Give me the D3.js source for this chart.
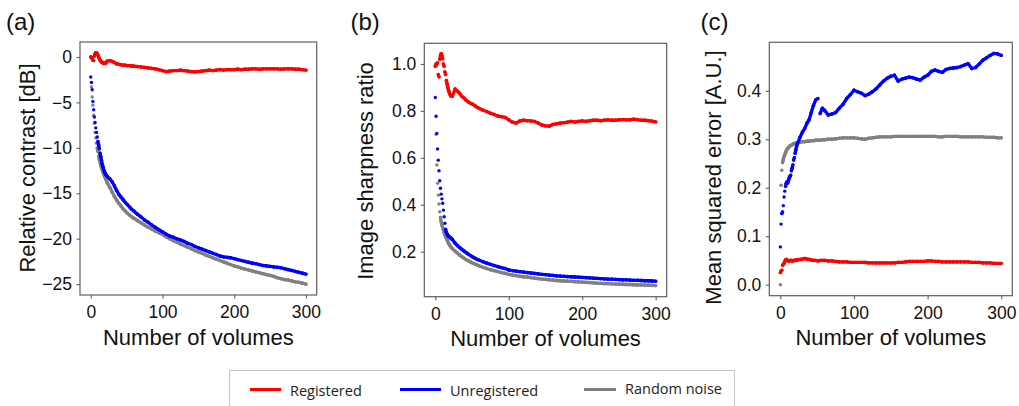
<!DOCTYPE html>
<html>
<head>
<meta charset="utf-8">
<script src="https://cdn.jsdelivr.net/npm/d3@7"></script>
<style>
body { margin: 0; background: #fff; }
</style>
</head>
<body>
<div id="fig"></div>
<script>
// number of volumes averaged (shared by all series)
var vols = [0,1,2,3,4,5,6,7,8,9,10,11,12,13,14,15,16,17,18,19,20,21,22,23,
    27,30,33,36,39,42,45,48,51,54,57,60,
    65,70,75,80,85,90,95,100,105,110,115,120,125,130,135,140,145,150,155,160,
    165,170,175,180,185,190,195,200,205,210,215,220,225,230,235,240,245,250,
    255,260,265,270,275,280,285,290,295,300];

// (a) relative contrast [dB]
var contrastReg = [0,-0.05,-0.2,-0.35,-0.4,0.1,0.35,0.48,0.45,0.35,0.2,0.0,-0.2,-0.35,-0.45,-0.55,-0.6,-0.65,-0.7,-0.7,-0.7,-0.65,-0.55,-0.45,
    -0.4,-0.5,-0.6,-0.75,-0.8,-0.85,-0.9,-0.9,-0.95,-0.95,-1.0,-1.0,
    -1.05,-1.1,-1.15,-1.2,-1.25,-1.3,-1.4,-1.5, -1.6,-1.55,-1.5,-1.5,-1.45,-1.5,-1.55,-1.6,
    -1.65,-1.6,-1.55,-1.5,-1.45,-1.5,-1.45,-1.4, -1.45,-1.4,-1.4,-1.4,-1.35,-1.4,-1.35,-1.35,
    -1.3,-1.3,-1.35,-1.3,-1.3,-1.3,-1.3,-1.3, -1.35,-1.3,-1.3,-1.3,-1.35,-1.35,-1.4,-1.45];
var contrastUnreg = [-2.2,-2.8,-3.6,-4.9,-5.8,-6.6,-7.2,-7.8,-8.3,-8.8,-9.3,-9.7,-10.1,-10.6,-11.0,-11.4,-11.8,-12.1,-12.4,-12.6,-12.8,-12.95,-13.05,-13.15,
    -13.45,-13.75,-14.2,-14.7,-15.1,-15.4,-15.7,-16.0,-16.25,-16.5,-16.75,-16.95,
    -17.3,-17.6,-17.95,-18.2,-18.5,-18.75,-19.0,-19.25, -19.5,-19.7,-19.85,-20.0,-20.15,-20.3,-20.5,-20.65,
    -20.85,-21.0,-21.15,-21.3,-21.45,-21.6,-21.75,-21.9, -22.0,-22.05,-22.1,-22.2,-22.3,-22.4,-22.5,-22.6,
    -22.7,-22.75,-22.85,-22.95,-23.0,-23.05,-23.1,-23.15, -23.2,-23.3,-23.4,-23.5,-23.6,-23.7,-23.8,-23.9];
var contrastNoise = [0,-3.3,-4.4,-5.3,-6.4,-7.3,-8.3,-8.9,-9.5,-10.0,-10.4,-10.9,-11.3,-11.6,-11.9,-12.2,-12.45,-12.65,-12.85,-13.05,-13.25,-13.45,-13.65,-13.85,
    -14.4,-14.9,-15.35,-15.75,-16.1,-16.4,-16.7,-16.95,-17.2,-17.4,-17.6,-17.75,
    -18.0,-18.25,-18.5,-18.75,-18.95,-19.15,-19.35,-19.55, -19.8,-20.0,-20.2,-20.4,-20.6,-20.75,-20.95,-21.1,
    -21.3,-21.45,-21.6,-21.8,-21.95,-22.1,-22.25,-22.4, -22.55,-22.7,-22.85,-23.0,-23.1,-23.25,-23.35,-23.45,
    -23.55,-23.65,-23.75,-23.85,-23.95,-24.05,-24.15,-24.3, -24.4,-24.5,-24.55,-24.65,-24.75,-24.8,-24.9,-25.0];

// (b) image sharpness ratio
var sharpReg = [0.99,0.995,1.0,1.005,0.955,0.945,1.02,1.035,1.044,1.035,1.022,1.0,0.99,0.966,0.955,0.93,0.915,0.9,0.888,0.878,0.87,0.865,0.862,0.862,
    0.893,0.885,0.875,0.862,0.855,0.845,0.838,0.832,0.828,0.822,0.815,0.81,
    0.803,0.797,0.79,0.785,0.778,0.775,0.772,0.762, 0.752,0.748,0.757,0.76,0.758,0.757,0.755,0.748,
    0.74,0.736,0.735,0.742,0.745,0.748,0.75,0.752, 0.755,0.752,0.755,0.757,0.755,0.758,0.76,0.76,
    0.758,0.76,0.762,0.76,0.76,0.762,0.763,0.762, 0.762,0.765,0.763,0.76,0.76,0.758,0.756,0.753];
var sharpUnreg = [0.857,0.777,0.704,0.638,0.59,0.545,0.502,0.47,0.445,0.425,0.406,0.377,0.349,0.321,0.295,0.283,0.275,0.27,0.266,0.263,0.261,0.258,0.255,0.253,
    0.236,0.226,0.218,0.21,0.203,0.196,0.189,0.183,0.177,0.172,0.167,0.163,
    0.157,0.151,0.146,0.141,0.136,0.132,0.128,0.122, 0.119,0.117,0.115,0.113,0.111,0.109,0.107,0.105,
    0.103,0.102,0.1,0.099,0.097,0.096,0.095,0.094, 0.093,0.092,0.091,0.09,0.089,0.088,0.087,0.086,
    0.085,0.084,0.083,0.083,0.082,0.081,0.08,0.08, 0.079,0.078,0.078,0.077,0.076,0.076,0.075,0.074];
var sharpNoise = [1.0,0.70,0.569,0.491,0.441,0.403,0.37,0.346,0.328,0.314,0.302,0.292,0.282,0.272,0.264,0.257,0.25,0.243,0.236,0.231,0.226,0.221,0.217,0.213,
    0.202,0.194,0.186,0.179,0.172,0.166,0.161,0.156,0.151,0.147,0.143,0.139,
    0.133,0.128,0.123,0.119,0.115,0.111,0.107,0.103, 0.1,0.098,0.095,0.093,0.091,0.089,0.087,0.085,
    0.083,0.082,0.08,0.079,0.077,0.076,0.075,0.074, 0.073,0.072,0.071,0.07,0.069,0.068,0.067,0.066,
    0.065,0.064,0.064,0.063,0.062,0.062,0.061,0.06, 0.06,0.059,0.058,0.058,0.057,0.057,0.056,0.055];

// (c) mean squared error [A.U.]
var mseReg = [0.025,0.028,0.03,0.04,0.042,0.044,0.048,0.051,0.052,0.051,0.05,0.049,0.049,0.05,0.05,0.05,0.049,0.049,0.05,0.05,0.05,0.05,0.051,0.051,
    0.052,0.053,0.054,0.053,0.052,0.051,0.05,0.05,0.049,0.05,0.05,0.05,
    0.049,0.049,0.048,0.047,0.047,0.047,0.046,0.046, 0.046,0.046,0.046,0.045,0.045,0.045,0.045,0.045,
    0.045,0.045,0.045,0.046,0.046,0.047,0.048,0.048, 0.048,0.048,0.048,0.049,0.049,0.048,0.048,0.047,
    0.047,0.047,0.047,0.047,0.047,0.047,0.047,0.046, 0.046,0.046,0.045,0.045,0.045,0.044,0.044,0.044];
var mseUnreg = [0.078,0.125,0.147,0.15,0.163,0.181,0.193,0.203,0.209,0.212,0.21,0.215,0.22,0.223,0.226,0.235,0.24,0.247,0.257,0.262,0.271,0.278,0.285,0.29,
    0.305,0.315,0.322,0.333,0.34,0.355,0.37,0.381,0.384,0.353,0.364,0.36,
    0.35,0.352,0.355,0.364,0.372,0.384,0.392,0.401, 0.398,0.395,0.39,0.393,0.398,0.404,0.412,0.42,
    0.426,0.43,0.432,0.42,0.424,0.426,0.428,0.427, 0.424,0.422,0.428,0.432,0.44,0.443,0.44,0.438,
    0.444,0.446,0.447,0.448,0.45,0.453,0.456,0.446, 0.448,0.455,0.463,0.468,0.473,0.477,0.476,0.473];
var mseNoise = [0.0,0.205,0.236,0.252,0.258,0.264,0.268,0.272,0.276,0.279,0.281,0.283,0.284,0.286,0.287,0.288,0.289,0.29,0.291,0.291,0.292,0.292,0.293,0.293,
    0.294,0.295,0.295,0.296,0.296,0.297,0.297,0.298,0.298,0.298,0.299,0.299,
    0.3,0.3,0.301,0.302,0.303,0.303,0.303,0.303, 0.302,0.301,0.3,0.302,0.303,0.304,0.305,0.305,
    0.305,0.305,0.306,0.306,0.306,0.306,0.306,0.306, 0.306,0.306,0.306,0.306,0.306,0.306,0.305,0.305,
    0.306,0.306,0.306,0.306,0.305,0.305,0.305,0.305, 0.305,0.305,0.305,0.304,0.304,0.304,0.303,0.303];

var xTicks = [0, 100, 200, 300];
var contrastTicks = [0, -5, -10, -15, -20, -25];
var sharpTicks = [0.2, 0.4, 0.6, 0.8, 1.0];
var mseTicks = [0.0, 0.1, 0.2, 0.3, 0.4];

var legendNames = ["Registered", "Unregistered", "Random noise"];
var colors = {reg: "#ff0000", unreg: "#0000ff", noise: "#808080"};

var font = "'Liberation Sans', Arial, Helvetica, sans-serif";
var frameColor = "#5f5f5f";

var svg = d3.select("#fig").append("svg")
    .attr("width", 1019)
    .attr("height", 406);

drawPanel = function(p) {
    var x = d3.scaleLinear().domain([-15, 315]).range([p.left, p.right]);
    var y = d3.scaleLinear().domain(p.ydom).range([p.bottom, p.top]);
    var g = svg.append("g");

    // noise first so that registered / unregistered sit on top
    p.series.forEach(function(s) {
	var pts = s.vals.map(function(v, i) { return [x(vols[i]), y(v), vols[i]] });
	// neighbouring dots that touch visually are joined so the dense part reads as a band
	var segs = d3.pairs(pts).filter(function(d) {
	    var dist = Math.hypot(d[1][0] - d[0][0], d[1][1] - d[0][1]);
	    return dist < (d[1][2] - d[0][2] > 1 ? 8 : 4.3) });
	g.append("g").selectAll("line")
	    .data(segs).enter()
	    .append("line")
	    .attr("x1", function(d) { return d[0][0] })
	    .attr("y1", function(d) { return d[0][1] })
	    .attr("x2", function(d) { return d[1][0] })
	    .attr("y2", function(d) { return d[1][1] })
	    .attr("stroke", s.color)
	    .attr("stroke-width", 3.3)
	    .attr("stroke-linecap", "round");
	g.append("g").selectAll("circle")
	    .data(pts).enter()
	    .append("circle")
	    .attr("cx", function(d) { return d[0] })
	    .attr("cy", function(d) { return d[1] })
	    .attr("r", 1.7)
	    .attr("fill", s.color);
    });

    g.append("rect")
	.attr("x", p.left)
	.attr("y", p.top)
	.attr("width", p.right - p.left)
	.attr("height", p.bottom - p.top)
	.attr("fill", "none")
	.attr("stroke", frameColor)
	.attr("stroke-width", 1.2);

    var xa = g.append("g")
	.attr("transform", "translate(0," + p.bottom + ")")
	.call(d3.axisBottom(x).tickValues(xTicks).tickSize(3.5).tickPadding(7.4));
    var ya = g.append("g")
	.attr("transform", "translate(" + p.left + ",0)")
	.call(d3.axisLeft(y).tickValues(p.yticks).tickFormat(p.fmt).tickSize(3.5).tickPadding(4.5));
    [xa, ya].forEach(function(a) {
	a.select(".domain").remove();
	a.attr("font-family", font).attr("font-size", 17.5);
	a.selectAll("line").attr("stroke", frameColor).attr("stroke-width", 1.1);
	a.selectAll("text").attr("fill", "#111");
    });

    g.append("text")
	.attr("x", (p.left + p.right) / 2)
	.attr("y", p.bottom + 49.5)
	.attr("text-anchor", "middle")
	.attr("font-family", font)
	.attr("font-size", 22)
	.attr("fill", "#111")
	.text("Number of volumes");

    g.append("text")
	.attr("text-anchor", "middle")
	.attr("transform", "translate(" + p.ylabX + "," + p.ylabY + ") rotate(-90)")
	.attr("font-family", font)
	.attr("font-size", 22)
	.attr("fill", "#111")
	.text(p.ylabel);

    g.append("text")
	.attr("x", p.tagX)
	.attr("y", 29.5)
	.attr("font-family", font)
	.attr("font-size", 24)
	.attr("fill", "#111")
	.text(p.tag);
}

drawPanel({tag: "(a)", tagX: 6, left: 80, right: 316.7, top: 42, bottom: 295,
	   ydom: [-26.2, 1.65], yticks: contrastTicks, fmt: d3.format("d"),
	   ylabel: "Relative contrast [dB]", ylabX: 34.5, ylabY: 168,
	   series: [{vals: contrastNoise, color: colors.noise},
		    {vals: contrastUnreg, color: colors.unreg},
		    {vals: contrastReg, color: colors.reg}]});

drawPanel({tag: "(b)", tagX: 350.5, left: 424.3, right: 666.7, top: 43.3, bottom: 296.7,
	   ydom: [0.008, 1.088], yticks: sharpTicks, fmt: d3.format(".1f"),
	   ylabel: "Image sharpness ratio", ylabX: 373, ylabY: 171,
	   series: [{vals: sharpNoise, color: colors.noise},
		    {vals: sharpUnreg, color: colors.unreg},
		    {vals: sharpReg, color: colors.reg}]});

drawPanel({tag: "(c)", tagX: 700.5, left: 769.3, right: 1012.3, top: 42.3, bottom: 295.7,
	   ydom: [-0.0227, 0.5], yticks: mseTicks, fmt: d3.format(".1f"),
	   ylabel: "Mean squared error [A.U.]", ylabX: 721, ylabY: 177.5,
	   series: [{vals: mseNoise, color: colors.noise},
		    {vals: mseUnreg, color: colors.unreg},
		    {vals: mseReg, color: colors.reg}]});

// legend below the panels (its bottom edge runs off the image)
var legend = svg.append("g");
legend.append("rect")
    .attr("x", 229.5)
    .attr("y", 370.5)
    .attr("width", 505)
    .attr("height", 50)
    .attr("fill", "#fff")
    .attr("stroke", "#c4c4c4")
    .attr("stroke-width", 1);

var legendX = [[250, 281], [400, 441], [584, 616]];
var legendColors = [colors.reg, colors.unreg, colors.noise];
legend.selectAll("line")
    .data(legendNames).enter()
    .append("line")
    .attr("x1", function(d, i) { return legendX[i][0] })
    .attr("x2", function(d, i) { return legendX[i][1] })
    .attr("y1", 389.5)
    .attr("y2", 389.5)
    .attr("stroke", function(d, i) { return legendColors[i] })
    .attr("stroke-width", 3);
legend.selectAll("text")
    .data(legendNames).enter()
    .append("text")
    .attr("x", function(d, i) { return legendX[i][1] + 9 })
    .attr("y", function(d, i) { return i == 2 ? 393.5 : 395.5 })
    .attr("font-family", "'Open Sans', sans-serif")
    .attr("font-size", 14.5)
    .attr("fill", "#222")
    .text(function(d) { return d });
</script>
</body>
</html>
